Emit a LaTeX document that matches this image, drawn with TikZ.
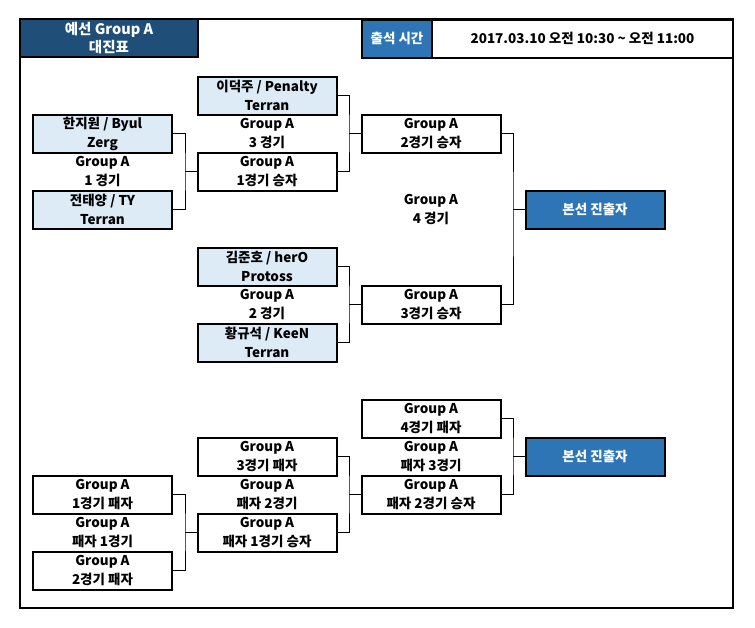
\documentclass[tikz,border=0pt]{standalone}
\usepackage{fontspec}
\setmainfont{Noto Sans CJK KR}
\definecolor{hdrdark}{HTML}{1F4E79}
\definecolor{hdrblue}{HTML}{2E75B6}
\definecolor{lightcell}{HTML}{DDEBF7}
\tikzset{
  txt/.style={align=center, inner sep=0pt, font=\fontsize{13.5}{19}\selectfont\bfseries},
  hdrtxt/.style={align=center, inner sep=0pt, font=\fontsize{14.5}{18}\selectfont\bfseries},
  box/.style={txt, draw, line width=2pt, minimum width=139pt, minimum height=38pt},
  player/.style={box, fill=lightcell},
  final/.style={box, fill=hdrblue, text=white},
  conn/.style={line width=1pt},
}
\begin{document}
\begin{tikzpicture}[x=1pt, y=-1pt]
\useasboundingbox (0,0) rectangle (755,627);
% outer frame
\node[draw, line width=2pt, minimum width=713pt, minimum height=589pt, inner sep=0pt] (frame) at (376.5,313.5) {};
% header
\node[hdrtxt, draw, line width=2pt, fill=hdrdark, text=white, minimum width=178pt, minimum height=38pt] (title) at (109,38) {예선 Group A\\대진표};
\node[txt, draw, line width=2pt, fill=hdrblue, text=white, minimum width=70pt, minimum height=38pt] (timelbl) at (397,38.5) {출석 시간};
\node[txt, draw, line width=2pt, minimum width=301pt, minimum height=38pt] (timeval) at (582.5,38.5) {2017.03.10 오전 10:30 \textasciitilde{} 오전 11:00};

% upper bracket
\node[player] (han) at (102.5,133.5) {한지원 / Byul\\Zerg};
\node[txt] (g1) at (102.5,171.5) {Group A\\1 경기};
\node[player] (jeon) at (102.5,209.5) {전태양 / TY\\Terran};

\node[player] (lee) at (267,95.5) {이덕주 / Penalty\\Terran};
\node[txt] (g3) at (267,133.5) {Group A\\3 경기};
\node[box] (w1) at (267,171.5) {Group A\\1경기 승자};

\node[player] (kim) at (267,266.5) {김준호 / herO\\Protoss};
\node[txt] (g2) at (267,304.5) {Group A\\2 경기};
\node[player] (hwang) at (267,342.5) {황규석 / KeeN\\Terran};

\node[box] (w2) at (431,133.5) {Group A\\2경기 승자};
\node[txt] (g4) at (431,209.5) {Group A\\4 경기};
\node[box] (w3) at (431,304.5) {Group A\\3경기 승자};

\node[final] (fin1) at (595,209.5) {본선 진출자};

\coordinate (j1) at (185,171.5);
\coordinate (j2) at (349,133.5);
\coordinate (j3) at (349,304.5);
\coordinate (j4) at (513,209.5);
\draw[conn] (han.east) -| (j1) |- (jeon.east);
\draw[conn] (j1) -- (w1.west);
\draw[conn] (lee.east) -| (j2) |- (w1.east);
\draw[conn] (j2) -- (w2.west);
\draw[conn] (kim.east) -| (j3) |- (hwang.east);
\draw[conn] (j3) -- (w3.west);
\draw[conn] (w2.east) -| (j4) |- (w3.east);
\draw[conn] (j4) -- (fin1.west);

% lower bracket
\node[box] (l1) at (102.5,494.5) {Group A\\1경기 패자};
\node[txt] (lg1) at (102.5,532.5) {Group A\\패자 1경기};
\node[box] (l2) at (102.5,570.5) {Group A\\2경기 패자};

\node[box] (l3) at (267,456.5) {Group A\\3경기 패자};
\node[txt] (lg2) at (267,494.5) {Group A\\패자 2경기};
\node[box] (lw1) at (267,532.5) {Group A\\패자 1경기 승자};

\node[box] (l4) at (431,418.5) {Group A\\4경기 패자};
\node[txt] (lg3) at (431,456.5) {Group A\\패자 3경기};
\node[box] (lw2) at (431,494.5) {Group A\\패자 2경기 승자};

\node[final] (fin2) at (595,456.5) {본선 진출자};

\coordinate (k1) at (185,532.5);
\coordinate (k2) at (349,494.5);
\coordinate (k3) at (513,456.5);
\draw[conn] (l1.east) -| (k1) |- (l2.east);
\draw[conn] (k1) -- (lw1.west);
\draw[conn] (l3.east) -| (k2) |- (lw1.east);
\draw[conn] (k2) -- (lw2.west);
\draw[conn] (l4.east) -| (k3) |- (lw2.east);
\draw[conn] (k3) -- (fin2.west);
\end{tikzpicture}
\end{document}
